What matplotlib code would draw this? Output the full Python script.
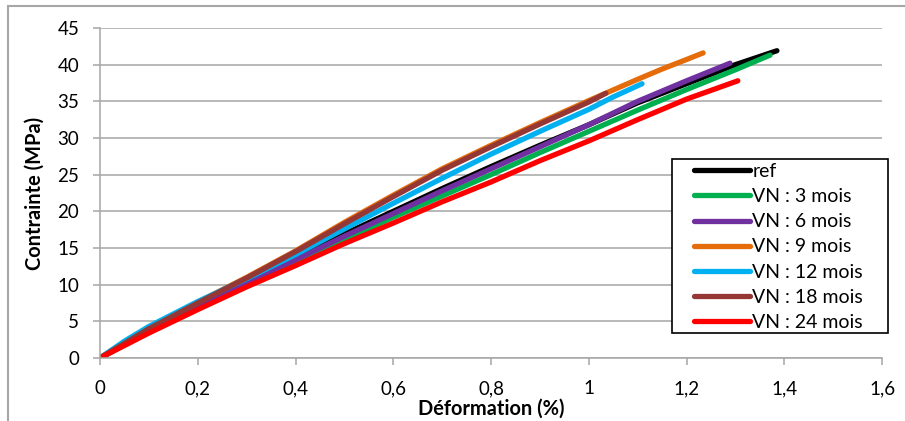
import matplotlib
matplotlib.use('Agg')
import matplotlib.pyplot as plt
from matplotlib.patches import Rectangle

# data (strain in %, stress in MPa)
x_ref = [0, 0.1, 0.2, 0.3, 0.4, 0.5, 0.6, 0.7, 0.8, 0.9, 1.0, 1.1, 1.2, 1.3, 1.385]
y_ref = [0, 3.8, 7.2, 10.6, 13.7, 16.9, 20.0, 23.1, 26.1, 29.0, 31.8, 34.8, 37.4, 40.0, 41.9]

x_3 = [0, 0.1, 0.2, 0.3, 0.4, 0.5, 0.6, 0.7, 0.8, 0.9, 1.0, 1.1, 1.2, 1.3, 1.371]
y_3 = [0, 3.6, 6.9, 10.2, 13.2, 16.2, 19.2, 22.1, 25.0, 28.0, 30.9, 33.8, 36.6, 39.3, 41.3]

x_6 = [0, 0.1, 0.2, 0.3, 0.4, 0.5, 0.6, 0.7, 0.8, 0.9, 1.0, 1.1, 1.2, 1.289]
y_6 = [0, 3.7, 7.0, 10.4, 13.4, 16.6, 19.7, 22.8, 25.8, 28.8, 31.8, 35.0, 37.8, 40.2]

x_9 = [0, 0.1, 0.2, 0.3, 0.4, 0.5, 0.6, 0.7, 0.8, 0.9, 1.0, 1.1, 1.15, 1.2, 1.234]
y_9 = [0, 4.0, 7.6, 11.0, 14.6, 18.5, 22.2, 25.8, 29.0, 32.1, 35.1, 38.0, 39.4, 40.7, 41.6]

x_12 = [0, 0.05, 0.1, 0.2, 0.3, 0.4, 0.5, 0.6, 0.7, 0.8, 0.9, 1.0, 1.05, 1.109]
y_12 = [0, 2.3, 4.3, 7.7, 10.8, 14.1, 17.6, 21.1, 24.5, 27.8, 30.9, 33.9, 35.6, 37.4]

x_18 = [0, 0.1, 0.2, 0.3, 0.4, 0.5, 0.6, 0.7, 0.8, 0.9, 1.0, 1.035]
y_18 = [0, 4.0, 7.5, 10.9, 14.5, 18.3, 22.0, 25.6, 28.8, 31.9, 34.9, 36.1]

x_24 = [0, 0.1, 0.2, 0.3, 0.4, 0.5, 0.6, 0.7, 0.8, 0.9, 1.0, 1.1, 1.2, 1.305]
y_24 = [0, 3.4, 6.6, 9.7, 12.6, 15.6, 18.4, 21.3, 24.0, 26.9, 29.6, 32.5, 35.3, 37.8]

labels = ['ref', 'VN : 3 mois', 'VN : 6 mois', 'VN : 9 mois',
          'VN : 12 mois', 'VN : 18 mois', 'VN : 24 mois']
colors = ['#000000', '#00b050', '#7030a0', '#e46c0a', '#00b0f0', '#953735', '#ff0000']

x_ticks = [0, 0.2, 0.4, 0.6, 0.8, 1.0, 1.2, 1.4, 1.6]
x_ticklabels = ['0', '0,2', '0,4', '0,6', '0,8', '1', '1,2', '1,4', '1,6']
y_ticks = [0, 5, 10, 15, 20, 25, 30, 35, 40, 45]

plt.rcParams['font.family'] = ['Lato', 'DejaVu Sans']

W, H = 905, 421
fig = plt.figure(figsize=(W/100, H/100), dpi=100)
ax = fig.add_axes([100/W, 1 - 358/H, 782/W, 330/H])

series = [(x_ref, y_ref), (x_3, y_3), (x_6, y_6), (x_9, y_9),
          (x_12, y_12), (x_18, y_18), (x_24, y_24)]
for (xs, ys), lab, c in zip(series, labels, colors):
  ax.plot(xs, ys, color=c, lw=3.8, label=lab, solid_capstyle='round')

ax.set_xlim(0, 1.6)
ax.set_ylim(0, 45)
ax.set_xticks(x_ticks)
ax.set_xticklabels(x_ticklabels)
ax.set_yticks(y_ticks)
ax.grid(axis='y', color='#a6a6a6', lw=1.1)
ax.set_axisbelow(True)
for s in ['top', 'right']:
  ax.spines[s].set_visible(False)
for s in ['left', 'bottom']:
  ax.spines[s].set_color('#a6a6a6')
  ax.spines[s].set_linewidth(1.1)
ax.tick_params(axis='both', colors='#a6a6a6', labelcolor='black', labelsize=13.5, length=5, width=1.1)
ax.tick_params(axis='y', pad=10)
ax.tick_params(axis='x', pad=11)

ax.set_xlabel('Déformation (%)', fontsize=14.4, fontweight='bold', labelpad=1)
ax.set_ylabel('Contrainte (MPa)', fontsize=14.4, fontweight='bold', labelpad=9)

# legend: content without frame, frame drawn as a box at the reference position
leg = ax.legend(loc='upper left', bbox_to_anchor=(694/W, 1 - 163/H),
                bbox_transform=fig.transFigure, fontsize=14, frameon=False,
                handlelength=2.9, handletextpad=0.1, labelspacing=0.42,
                borderpad=0, borderaxespad=0)
for line in leg.get_lines():
  line.set_linewidth(3.8)
leg.set_zorder(6)
ax.add_patch(Rectangle((672/W, 1 - 333/H), 216/W, 174/H, transform=fig.transFigure,
                       facecolor='white', edgecolor='black', lw=1.2,
                       zorder=5, clip_on=False))

# outer chart border
fig.patches.append(Rectangle((8/W, -0.1), 1.1, 1 - 6/H + 0.1, transform=fig.transFigure,
                             fill=False, edgecolor='#a6a6a6', lw=1.5))

fig.savefig('out.png', dpi=100)
